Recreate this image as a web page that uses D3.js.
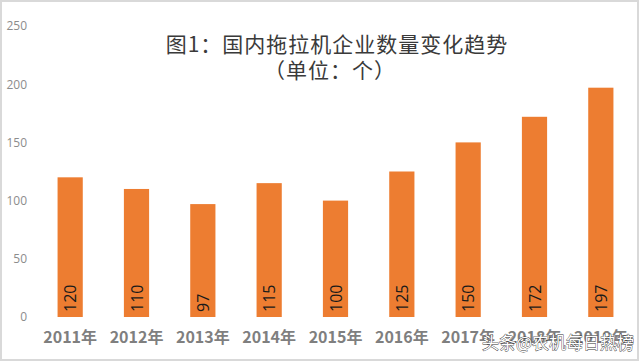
<!DOCTYPE html>
<html>
<head>
<meta charset="utf-8">
<script src="https://cdn.jsdelivr.net/npm/d3@7"></script>
<style>
  body { margin: 0; background: #fff; }
  svg { display: block; }
</style>
</head>
<body>
<div id="chart"></div>
<script>
// data
var years = ["2011年", "2012年", "2013年", "2014年", "2015年", "2016年", "2017年", "2018年", "2019年"];
var counts = [120, 110, 97, 115, 100, 125, 150, 172, 197];
var yTicks = [0, 50, 100, 150, 200, 250];
var titleLines = ["图1：国内拖拉机企业数量变化趋势", "（单位：个）"];

var width = 640,
  height = 362,
  barColor = "#ED7D31";

var svg = d3
  .select("#chart")
  .append("svg")
  .attr("width", width)
  .attr("height", height);

// frame
svg
  .append("rect")
  .attr("x", 1)
  .attr("y", 1)
  .attr("width", width - 3)
  .attr("height", height - 3)
  .attr("fill", "#fff")
  .attr("stroke", "#d9d9d9")
  .attr("stroke-width", 2);

var x = d3
  .scaleBand()
  .domain(years)
  .range([37, 634])
  .paddingInner(0.62)
  .paddingOuter(0.31);

var y = d3
  .scaleLinear()
  .domain([0, 250])
  .range([317, 26]);

// y axis labels, no line
var yAxis = svg
  .append("g")
  .attr("transform", "translate(27,0)")
  .call(d3.axisLeft(y).tickValues(yTicks).tickSize(0).tickPadding(0));
yAxis.select(".domain").remove();
yAxis
  .selectAll("text")
  .attr("fill", "#8c8c8c")
  .attr("font-family", "'Open Sans', 'Noto Sans', sans-serif")
  .attr("font-size", 12);

// bars
svg
  .append("g")
  .selectAll("rect")
  .data(counts)
  .enter()
  .append("rect")
  .attr("x", function(d, i) {
    return x(years[i]);
  })
  .attr("y", function(d) {
    return y(d);
  })
  .attr("width", x.bandwidth())
  .attr("height", function(d) {
    return y(0) - y(d);
  })
  .attr("fill", barColor);

// value labels, rotated, at bar foot
svg
  .append("g")
  .selectAll("text")
  .data(counts)
  .enter()
  .append("text")
  .attr("transform", function(d, i) {
    var cx = x(years[i]) + x.bandwidth() / 2;
    return "translate(" + (cx + 6) + "," + (y(0) - 5) + ") rotate(-90)";
  })
  .attr("font-family", "'Open Sans', 'Noto Sans', sans-serif")
  .attr("font-size", 16)
  .attr("fill", "#1a1a1a")
  .text(function(d) {
    return d;
  });

// x labels
var xAxis = svg
  .append("g")
  .attr("transform", "translate(0,317)")
  .call(d3.axisBottom(x).tickSize(0).tickPadding(15));
xAxis.select(".domain").remove();
xAxis
  .selectAll("text")
  .attr("fill", "#7f7f7f")
  .attr("font-family", "'Noto Sans CJK SC', sans-serif")
  .attr("font-weight", "bold")
  .attr("font-size", 16);

// title
svg
  .append("text")
  .attr("x", 337)
  .attr("y", 52)
  .attr("text-anchor", "middle")
  .attr("font-family", "'Noto Sans CJK SC', sans-serif")
  .attr("font-size", 21)
  .attr("letter-spacing", 1)
  .attr("fill", "#3a3a3a")
  .text(titleLines[0]);
svg
  .append("text")
  .attr("x", 330)
  .attr("y", 78)
  .attr("text-anchor", "middle")
  .attr("font-family", "'Noto Sans CJK SC', sans-serif")
  .attr("font-size", 21)
  .attr("letter-spacing", 1)
  .attr("fill", "#3a3a3a")
  .text(titleLines[1]);

// watermark (sits over the last x labels, as in the source image)
svg
  .append("text")
  .attr("x", 482)
  .attr("y", 349)
  .attr("font-family", "'Noto Sans CJK SC', sans-serif")
  .attr("font-size", 17)
  .attr("fill", "#ffffff")
  .attr("stroke", "#333")
  .attr("stroke-width", 0.8)
  .attr("paint-order", "stroke")
  .text("头条@农机每日热榜");
</script>
</body>
</html>
